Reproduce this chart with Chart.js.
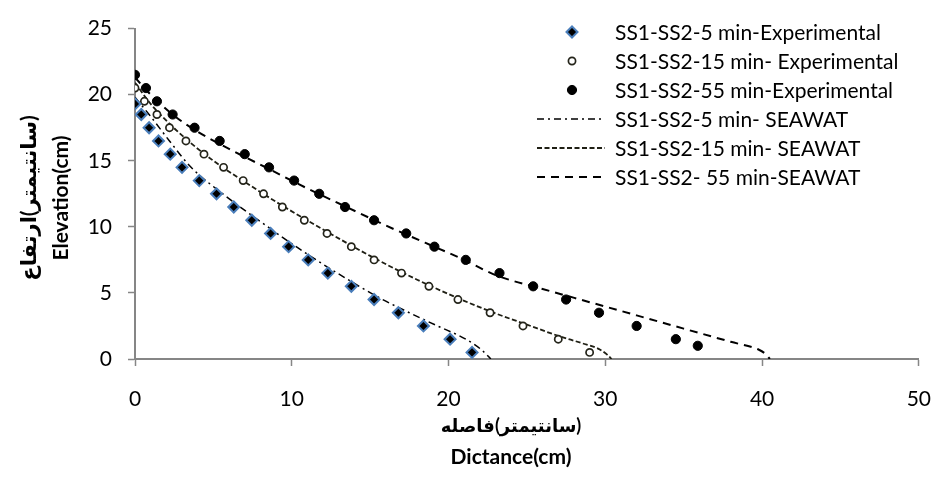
<!DOCTYPE html>
<html lang="fa">
<head>
<meta charset="UTF-8">
<title>SS1-SS2 Elevation vs Distance</title>
<script src="https://cdn.jsdelivr.net/npm/chart.js@4.4.1/dist/chart.umd.min.js"></script>
<style>
  body { margin: 0; background: #fff; }
  .container { width: 952px; height: 481px; }
</style>
</head>
<body>
<div class="container"><canvas id="chart"></canvas></div>
<script>
const FONT = "Lato, 'DejaVu Sans', sans-serif"
const AXIS_GREY = '#868686'

const xTickStep = 10
const yTickStep = 5
const xRange = [0, 50]
const yRange = [0, 25]

const seriesNames = [
  'SS1-SS2-5 min-Experimental',
  'SS1-SS2-15 min- Experimental',
  'SS1-SS2-55 min-Experimental',
  'SS1-SS2-5 min- SEAWAT',
  'SS1-SS2-15 min- SEAWAT',
  'SS1-SS2- 55 min-SEAWAT',
]

// measured points
const exp5X = [0, 0.4, 0.9, 1.5, 2.25, 3.0, 4.1, 5.2, 6.3, 7.45, 8.65, 9.8, 11.05, 12.3, 13.8, 15.25, 16.8, 18.4, 20.1, 21.5]
const exp5Y = [19.3, 18.5, 17.5, 16.5, 15.5, 14.5, 13.5, 12.5, 11.5, 10.5, 9.5, 8.5, 7.5, 6.5, 5.5, 4.5, 3.5, 2.5, 1.5, 0.5]

const exp15X = [0, 0.6, 1.4, 2.2, 3.25, 4.4, 5.65, 6.9, 8.2, 9.4, 10.8, 12.25, 13.8, 15.25, 17.0, 18.75, 20.6, 22.65, 24.75, 27.0, 29.0]
const exp15Y = [20.5, 19.5, 18.5, 17.5, 16.5, 15.5, 14.5, 13.5, 12.5, 11.5, 10.5, 9.5, 8.5, 7.5, 6.5, 5.5, 4.5, 3.5, 2.5, 1.5, 0.5]

const exp55X = [0, 0.7, 1.4, 2.4, 3.8, 5.4, 7.0, 8.55, 10.15, 11.75, 13.4, 15.25, 17.3, 19.1, 21.1, 23.25, 25.4, 27.5, 29.6, 32.0, 34.5, 35.9]
const exp55Y = [21.5, 20.5, 19.5, 18.5, 17.5, 16.5, 15.5, 14.5, 13.5, 12.5, 11.5, 10.5, 9.5, 8.5, 7.5, 6.5, 5.5, 4.5, 3.5, 2.5, 1.5, 1.0]

// SEAWAT model curves
const sea5X = [0, 0.9, 2.2, 3.5, 5.7, 8.0, 10.4, 12.9, 15.8, 17.5, 19.3, 21.1, 22.1, 22.7]
const sea5Y = [19.8, 18.5, 16.5, 14.6, 12.4, 10.4, 8.4, 6.5, 4.5, 3.5, 2.5, 1.5, 0.7, 0]

const sea15X = [0, 1, 2.2, 3.5, 5, 7, 9.4, 12, 15, 18, 21, 23, 25, 27, 28.5, 29.6, 30.1, 30.4]
const sea15Y = [20.9, 19.3, 17.8, 16.4, 15.0, 13.4, 11.6, 9.8, 7.8, 6.0, 4.4, 3.45, 2.6, 1.75, 1.2, 0.75, 0.35, 0]

const sea55X = [0, 1, 2.5, 4, 6, 8.5, 11, 13.5, 16, 18.5, 21, 23, 26, 29, 32, 35, 38, 39.8, 40.2, 40.5]
const sea55Y = [21.3, 20.0, 18.4, 17.2, 15.9, 14.4, 12.9, 11.5, 10.1, 8.8, 7.5, 6.35, 5.3, 4.3, 3.3, 2.3, 1.3, 0.7, 0.4, 0]

const xTitleFa = '(سانتیمتر)فاصله'
const xTitleEn = 'Dictance(cm)'
const yTitleFa = '(سانتیمتر)ارتفاع'
const yTitleEn = 'Elevation(cm)'

const pairs = (xs, ys) => xs.map((x, i) => ({ x: x, y: ys[i] }))

Chart.defaults.color = '#000'
Chart.defaults.font.family = FONT

const sideLegend = {
  id: 'sideLegend',
  afterDraw(chart) {
    const ctx = chart.ctx
    ctx.save()
    chart.data.datasets.forEach((ds, i) => {
      const y = 32 + i * 29
      if (ds.showLine) {
        ctx.strokeStyle = ds.borderColor
        ctx.lineWidth = ds.borderWidth
        ctx.setLineDash(ds.borderDash || [])
        ctx.beginPath()
        ctx.moveTo(537, y)
        ctx.lineTo(605, y)
        ctx.stroke()
        ctx.setLineDash([])
      } else {
        ctx.fillStyle = ds.backgroundColor
        ctx.strokeStyle = ds.borderColor
        ctx.lineWidth = ds.borderWidth
        Chart.helpers.drawPoint(ctx, {
          pointStyle: ds.pointStyle,
          radius: ds.pointRadius,
          borderWidth: ds.borderWidth,
          rotation: 0,
        }, 572, y)
      }
      ctx.fillStyle = '#000'
      ctx.font = '21px ' + FONT
      ctx.textAlign = 'left'
      ctx.textBaseline = 'middle'
      ctx.fillText(seriesNames[i], 615, y + 1)
    })
    ctx.restore()
  },
}

const axisTitles = {
  id: 'axisTitles',
  afterDraw(chart) {
    const ctx = chart.ctx
    ctx.save()
    ctx.fillStyle = '#000'
    ctx.textAlign = 'center'
    ctx.textBaseline = 'middle'

    ctx.direction = 'rtl'
    ctx.font = 'bold 18px ' + FONT
    ctx.fillText(xTitleFa, 511, 426)
    ctx.direction = 'ltr'
    ctx.font = 'bold 21px ' + FONT
    ctx.fillText(xTitleEn, 511, 457)

    ctx.translate(29, 198)
    ctx.rotate(-Math.PI / 2)
    ctx.direction = 'rtl'
    ctx.fillText(yTitleFa, 0, 0)
    ctx.restore()

    ctx.save()
    ctx.fillStyle = '#000'
    ctx.font = 'bold 21px ' + FONT
    ctx.textAlign = 'center'
    ctx.textBaseline = 'middle'
    ctx.translate(61, 198)
    ctx.rotate(-Math.PI / 2)
    ctx.fillText(yTitleEn, 0, 0)
    ctx.restore()
  },
}

const axisStyle = {
  border: { color: AXIS_GREY, width: 2 },
  grid: {
    drawOnChartArea: false,
    drawTicks: true,
    tickLength: 7,
    tickColor: AXIS_GREY,
    tickWidth: 1.5,
  },
}

new Chart(document.getElementById('chart'), {
  type: 'scatter',
  data: {
    datasets: [
      {
        label: seriesNames[0],
        data: pairs(exp5X, exp5Y),
        pointStyle: 'rectRot',
        pointRadius: 5.5,
        backgroundColor: '#000',
        borderColor: '#4a7ebb',
        borderWidth: 2,
        showLine: false,
      },
      {
        label: seriesNames[1],
        data: pairs(exp15X, exp15Y),
        pointStyle: 'circle',
        pointRadius: 3.6,
        backgroundColor: '#fff',
        borderColor: '#24241a',
        borderWidth: 1.7,
        showLine: false,
      },
      {
        label: seriesNames[2],
        data: pairs(exp55X, exp55Y),
        pointStyle: 'circle',
        pointRadius: 4.6,
        backgroundColor: '#000',
        borderColor: '#000',
        borderWidth: 1,
        showLine: false,
      },
      {
        label: seriesNames[3],
        data: pairs(sea5X, sea5Y),
        showLine: true,
        pointRadius: 0,
        borderColor: '#000',
        borderWidth: 1.5,
        borderDash: [7, 4, 2, 4],
        cubicInterpolationMode: 'monotone',
      },
      {
        label: seriesNames[4],
        data: pairs(sea15X, sea15Y),
        showLine: true,
        pointRadius: 0,
        borderColor: '#1f1f14',
        borderWidth: 1.8,
        borderDash: [5, 2.5],
        cubicInterpolationMode: 'monotone',
      },
      {
        label: seriesNames[5],
        data: pairs(sea55X, sea55Y),
        showLine: true,
        pointRadius: 0,
        borderColor: '#000',
        borderWidth: 2,
        borderDash: [8, 6],
        cubicInterpolationMode: 'monotone',
      },
    ],
  },
  options: {
    responsive: true,
    maintainAspectRatio: false,
    animation: false,
    layout: { padding: { top: 23, right: 17, left: 0, bottom: 0 } },
    plugins: {
      legend: { display: false },
      tooltip: { enabled: false },
    },
    scales: {
      x: {
        type: 'linear',
        min: xRange[0],
        max: xRange[1],
        ticks: { stepSize: xTickStep, font: { size: 21 }, padding: 21, maxRotation: 0 },
        afterFit: (scale) => { scale.height = 122 },
        ...axisStyle,
      },
      y: {
        type: 'linear',
        min: yRange[0],
        max: yRange[1],
        ticks: { stepSize: yTickStep, font: { size: 21 }, padding: 16 },
        afterFit: (scale) => { scale.width = 135 },
        ...axisStyle,
      },
    },
  },
  plugins: [sideLegend, axisTitles],
})
</script>
</body>
</html>
